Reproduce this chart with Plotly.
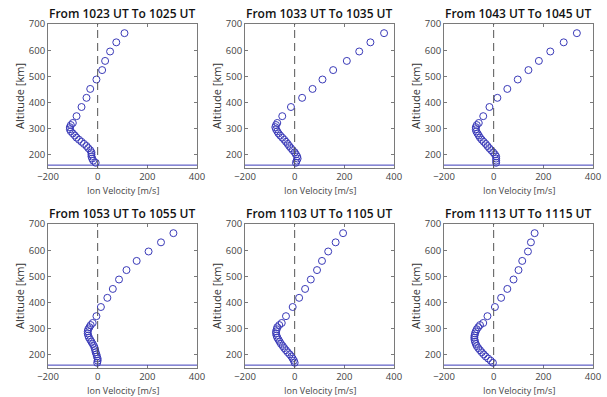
import plotly.graph_objects as go

# ---- data ----
titles = ["From 1023 UT To 1025 UT", "From 1033 UT To 1035 UT", "From 1043 UT To 1045 UT",
          "From 1053 UT To 1055 UT", "From 1103 UT To 1105 UT", "From 1113 UT To 1115 UT"]

altitude = [665, 630, 595, 559, 524, 488, 452, 418, 383, 348,
            322, 314, 306, 298, 290, 282, 274, 266, 258, 250,
            242, 234, 226, 218, 210, 202, 194, 186, 178, 170]

vel_1023 = [108, 75, 50, 30, 18, -5, -30, -45, -65, -85,
            -100, -108, -112, -112, -108, -100, -92, -85, -75, -65,
            -55, -45, -38, -30, -25, -25, -25, -22, -18, -8]
vel_1033 = [360, 305, 260, 210, 155, 112, 72, 30, -15, -50,
            -70, -75, -78, -75, -70, -65, -58, -50, -42, -35,
            -28, -22, -15, -8, 0, 5, 10, 12, 8, 5]
vel_1043 = [335, 282, 228, 182, 140, 97, 55, 15, -17, -42,
            -60, -68, -72, -72, -70, -65, -60, -55, -48, -40,
            -32, -25, -18, -10, -2, 5, 10, 10, 10, 10]
vel_1053 = [305, 255, 205, 157, 116, 86, 61, 39, 13, -5,
            -20, -28, -33, -38, -40, -40, -38, -35, -30, -25,
            -20, -15, -12, -10, -8, -5, -3, 0, 0, -2]
vel_1103 = [195, 165, 135, 110, 90, 65, 42, 18, -8, -35,
            -52, -62, -70, -72, -75, -75, -73, -70, -65, -60,
            -55, -48, -42, -35, -28, -20, -13, -8, -3, 0]
vel_1113 = [165, 150, 138, 115, 100, 80, 55, 30, 5, -25,
            -42, -55, -62, -68, -72, -75, -77, -78, -77, -75,
            -72, -68, -62, -55, -48, -40, -32, -22, -12, -3]
velocities = [vel_1023, vel_1033, vel_1043, vel_1053, vel_1103, vel_1113]

x_ticks = [-200, 0, 200, 400]
y_ticks = [200, 300, 400, 500, 600, 700]
x_range = [-200, 400]
y_range = [150, 700]
zero_velocity = 0
base_altitude = 161

# ---- layout ----
W, H = 607, 397
col_px = [(48, 197), (245, 394), (444, 593)]
row_px = [(24, 168), (224, 368)]
FONT = "Open Sans"
marker_color = "#3a3ab8"

fig = go.Figure()
layout = dict(width=W, height=H, margin=dict(l=0, r=0, t=0, b=0, autoexpand=False),
              paper_bgcolor="white", plot_bgcolor="white", showlegend=False,
              font=dict(family=FONT, size=10, color="#444"))
annotations = []
shapes = []

for i in range(6):
    r, c = divmod(i, 3)
    n = "" if i == 0 else str(i + 1)
    x0, x1 = col_px[c]
    ytop, ybot = row_px[r]
    xd = [x0 / W, x1 / W]
    yd = [1 - ybot / H, 1 - ytop / H]
    axis_common = dict(showline=True, linecolor="#7a7a7a", linewidth=1, mirror="ticks",
                       ticks="inside", ticklen=3, tickcolor="#7a7a7a", showgrid=False,
                       zeroline=False, automargin=False,
                       tickfont=dict(family=FONT, size=9.5, color="#444"))
    layout["xaxis" + n] = dict(domain=xd, range=x_range, tickvals=x_ticks,
                               anchor="y" + n, **axis_common)
    layout["yaxis" + n] = dict(domain=yd, range=y_range, tickvals=y_ticks,
                               anchor="x" + n, **axis_common)
    fig.add_trace(go.Scatter(x=velocities[i], y=altitude, mode="markers",
                             xaxis="x" + n, yaxis="y" + n,
                             marker=dict(symbol="circle-open", size=7,
                                         color=marker_color, line=dict(width=1))))
    # dashed zero line
    shapes.append(dict(type="line", xref="x" + n, yref="y" + n,
                       x0=zero_velocity, x1=zero_velocity, y0=y_range[0], y1=y_range[1],
                       line=dict(color="#555", width=1, dash="8px,5px")))
    # blue baseline
    shapes.append(dict(type="line", xref="x" + n, yref="y" + n,
                       x0=x_range[0], x1=x_range[1], y0=base_altitude, y1=base_altitude,
                       line=dict(color="#3a3ab8", width=1)))
    cx = (x0 + x1) / 2 / W
    annotations.append(dict(text=titles[i], x=cx, y=1 - (ytop - 11) / H, xref="paper", yref="paper",
                            showarrow=False, xanchor="center", yanchor="middle",
                            font=dict(family=FONT, size=12, color="#111", weight=600)))
    annotations.append(dict(text="Ion Velocity [m/s]", x=cx, y=1 - (ybot + 22) / H,
                            xref="paper", yref="paper", showarrow=False,
                            xanchor="center", yanchor="middle",
                            font=dict(family=FONT, size=9, color="#444")))
    annotations.append(dict(text="Altitude [km]", x=(x0 - 29) / W, y=1 - (ytop + ybot) / 2 / H,
                            xref="paper", yref="paper", showarrow=False, textangle=-90,
                            xanchor="center", yanchor="middle",
                            font=dict(family=FONT, size=11, color="#333")))

layout["annotations"] = annotations
layout["shapes"] = shapes
fig.update_layout(**layout)
fig.write_html("out.html", config={"displayModeBar": False},
               post_script="document.body.style.margin='0';document.body.style.overflow='hidden';")
